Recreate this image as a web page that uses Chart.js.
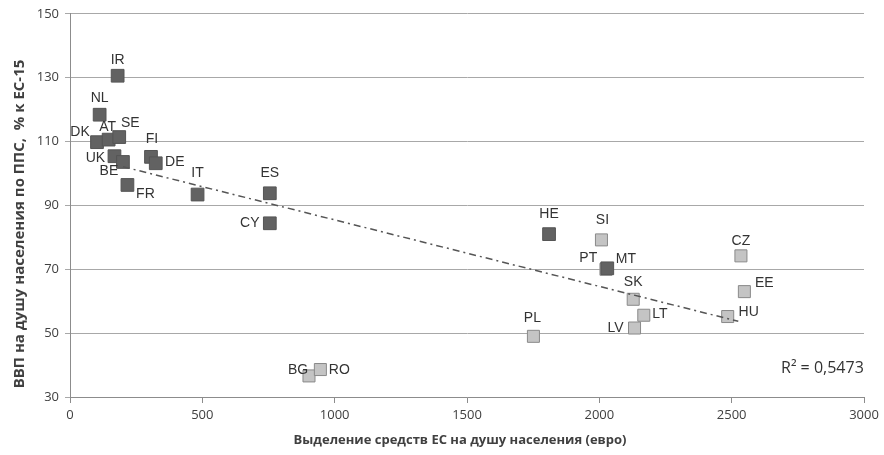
<!DOCTYPE html>
<html>
<head>
<meta charset="utf-8">
<script src="https://cdn.jsdelivr.net/npm/chart.js@4.4.1/dist/chart.umd.min.js"></script>
<style>
  html, body { margin: 0; padding: 0; background: #fff; }
  #wrap { width: 884px; height: 455px; position: relative; }
</style>
</head>
<body>
<div id="wrap"><canvas id="scatterCanvas"></canvas></div>
<script>
// страны ЕС: выделение средств на душу (евро) и ВВП на душу по ППС (% к ЕС-15)
const countries = ["IR","NL","DK","AT","SE","UK","BE","FR","FI","DE","IT","ES","CY","HE","MT","PT","SI","SK","LT","LV","PL","CZ","EE","HU","BG","RO"];
const funds = [180, 112, 102, 146, 186, 168, 200, 217, 306, 324, 482, 755, 755, 1810, 2025, 2030, 2008, 2128, 2168, 2133, 1751, 2535, 2548, 2485, 903, 946];
const gdp = [130.6, 118.4, 109.8, 110.6, 111.4, 105.4, 103.6, 96.4, 105.2, 103.2, 93.4, 93.8, 84.4, 81.0, 70.0, 70.3, 79.2, 60.6, 55.6, 51.6, 49.0, 74.2, 63.0, 55.2, 36.6, 38.6];
// тёмные маркеры
const darkGroup = ["IR","NL","DK","AT","SE","UK","BE","FR","FI","DE","IT","ES","CY","HE","PT"];
const trendRange = [200, 2525];
const r2Text = "R² = 0,5473";
const xTitle = "Выделение средств ЕС на душу населения (евро)";
const yTitle = "ВВП на душу населения по ППС,  % к ЕС-15";

// где подпись стоит относительно маркера
const labelOffset = {
    IR: [0, -16], NL: [0, -17], DK: [-17, -10], AT: [-1, -12], SE: [11, -14],
    UK: [-19, 2], BE: [-14, 9], FR: [18, 9], FI: [1, -18], DE: [19, -1],
    IT: [0, -21], ES: [0, -20], CY: [-20, 0], HE: [0, -20], SI: [1, -20],
    PT: [-19, -10], MT: [20, -10], SK: [0, -17], LT: [16, -1], LV: [-19, 0],
    PL: [-1, -18], CZ: [0, -15], EE: [20, -8], HU: [21, -4], BG: [-11, -6], RO: [19, 1]
};

const darkPts = [];
const lightPts = [];
countries.forEach((c, i) => {
    const p = { x: funds[i], y: gdp[i], name: c };
    (darkGroup.includes(c) ? darkPts : lightPts).push(p);
});

// линейный тренд методом наименьших квадратов
const n = funds.length;
const mx = funds.reduce((a, b) => a + b, 0) / n;
const my = gdp.reduce((a, b) => a + b, 0) / n;
let sxy = 0, sxx = 0;
for (let i = 0; i < n; i++) {
    sxy += (funds[i] - mx) * (gdp[i] - my);
    sxx += (funds[i] - mx) * (funds[i] - mx);
}
const slope = sxy / sxx;
const icpt = my - slope * mx;
const trend = trendRange.map(x => ({ x: x, y: icpt + slope * x }));

const pointLabels = {
    id: 'pointLabels',
    afterDatasetsDraw(chart) {
        const ctx = chart.ctx;
        ctx.save();
        ctx.font = '14px "Liberation Sans", Arial, sans-serif';
        ctx.fillStyle = '#333';
        ctx.textAlign = 'center';
        ctx.textBaseline = 'middle';
        [1, 2].forEach(di => {
            const meta = chart.getDatasetMeta(di);
            meta.data.forEach((el, j) => {
                const name = chart.data.datasets[di].data[j].name;
                const off = labelOffset[name] || [0, -16];
                ctx.fillText(name, el.x + off[0], el.y + off[1]);
            });
        });
        // коэффициент детерминации
        ctx.font = '16px "Open Sans", sans-serif';
        ctx.textAlign = 'left';
        ctx.fillText(r2Text, chart.chartArea.right - 83, chart.scales.y.getPixelForValue(39));

        // подписи осей
        ctx.fillStyle = '#404040';
        ctx.font = 'bold 13px "Open Sans", sans-serif';
        ctx.textAlign = 'center';
        ctx.fillText(xTitle, 460, 440);
        ctx.translate(20, 224);
        ctx.rotate(-Math.PI / 2);
        ctx.font = 'bold 15px "Open Sans", sans-serif';
        ctx.fillText(yTitle, 0, 0);
        ctx.restore();
    }
};

const tickFont = { family: '"Open Sans", sans-serif', size: 13 };

const scatterChart = new Chart(document.getElementById('scatterCanvas'), {
    type: 'scatter',
    data: {
        datasets: [{
            type: 'line',
            data: trend,
            borderColor: '#555',
            borderWidth: 1.5,
            borderDash: [7, 4, 2, 4],
            pointRadius: 0,
            fill: false,
            order: 0
        }, {
            data: darkPts,
            pointStyle: 'rect',
            pointRadius: 9,
            backgroundColor: '#626262',
            borderColor: '#555',
            borderWidth: 1,
            order: 1
        }, {
            data: lightPts,
            pointStyle: 'rect',
            pointRadius: 8.5,
            backgroundColor: '#c4c4c4',
            borderColor: '#8a8a8a',
            borderWidth: 1,
            order: 2
        }]
    },
    options: {
        responsive: true,
        maintainAspectRatio: false,
        animation: false,
        layout: { padding: { top: 6, right: 20, left: 0, bottom: 0 } },
        plugins: { legend: { display: false }, tooltip: { enabled: false } },
        scales: {
            x: {
                type: 'linear',
                min: 0, max: 3000,
                ticks: { stepSize: 500, color: '#404040', font: tickFont, padding: 4, callback: v => String(v) },
                grid: { drawOnChartArea: false, tickLength: 6, color: '#8c8c8c' },
                border: { color: '#8c8c8c' },
                afterFit: s => { s.height = 58; }
            },
            y: {
                min: 30, max: 150,
                ticks: { stepSize: 20, color: '#404040', font: tickFont, padding: 6 },
                grid: { color: '#a8a8a8', tickLength: 5 },
                border: { color: '#8c8c8c' },
                afterFit: s => { s.width = 70; }
            }
        }
    },
    plugins: [pointLabels]
});
</script>
</body>
</html>
